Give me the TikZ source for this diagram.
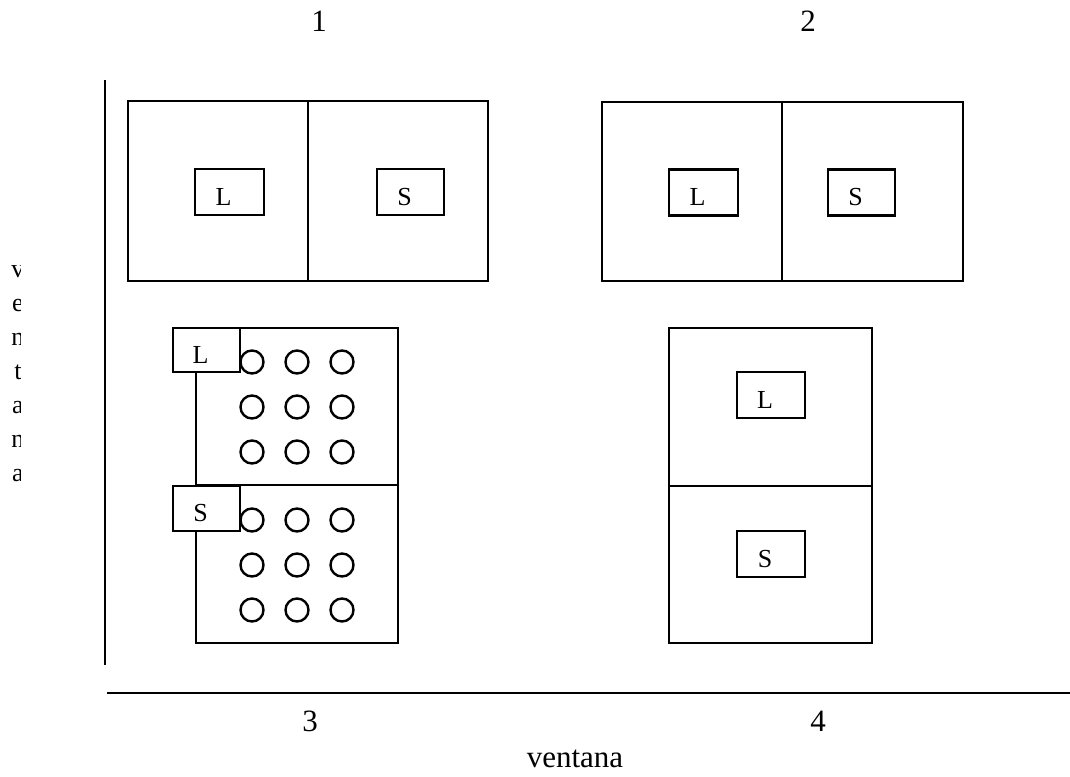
\documentclass[tikz,border=0pt]{standalone}
\usepackage{fontspec}
\setmainfont{Liberation Serif}
\begin{document}
\begin{tikzpicture}[x=1pt,y=-1pt,
  cell/.style={draw,line width=2.6pt,minimum width=#1,inner sep=0pt,outer sep=0pt},
  tag/.style={draw,line width=2.6pt,fill=white,inner sep=0pt,minimum width=68pt,minimum height=46pt,
    text height=26pt,text depth=0pt,font=\fontsize{26}{30}\selectfont,
    execute at begin node={\hspace*{-12pt}}},
  dot/.style={draw,circle,line width=2.4pt,minimum size=23pt,inner sep=0pt},
  axis/.style={line width=2.7pt},
  lbl/.style={font=\fontsize{31}{34}\selectfont,inner sep=0pt}]
\useasboundingbox (0,0) rectangle (1070,776);
% axes
\coordinate (vtop) at (105,80);
\coordinate (vbot) at (105,665);
\coordinate (hl) at (107,693);
\coordinate (hr) at (1070,693);
\draw[axis] (vtop) -- (vbot);
\draw[axis] (hl) -- (hr);
% labels
\node[lbl] (n1) at (319,21) {1};
\node[lbl] (n2) at (808,21) {2};
\node[lbl] (n3) at (310,721) {3};
\node[lbl] (n4) at (818,721) {4};
\node[lbl] (hv) at (575,759) {ventana};
\begin{scope}
\clip (0,0) rectangle (20,776);
\node[inner sep=0pt,align=center,font=\fontsize{26}{34}\selectfont] (vv) at (18,374) {v\\e\\n\\t\\a\\n\\a};
\end{scope}
% panel 1
\node[cell=180pt,minimum height=180pt] (a1) at (218,191) {};
\node[cell=180pt,minimum height=180pt] (a2) at (398,191) {};
\node[tag,minimum width=69pt] (aL) at (229.5,192) {L};
\node[tag,minimum width=67pt] (aS) at (410.5,192) {S};
% panel 2
\node[cell=180pt,minimum height=179pt] (b1) at (692,191.5) {};
\node[cell=181pt,minimum height=179pt] (b2) at (872.5,191.5) {};
\node[tag,minimum width=69pt] (bL) at (703.5,192.5) {L};
\node[tag,minimum width=67pt] (bS) at (861.5,192.5) {S};
% panel 3
\node[cell=202pt,minimum height=157pt] (c1) at (297,406.5) {};
\node[cell=202pt,minimum height=158pt] (c2) at (297,564) {};
\foreach \cx [count=\i] in {252,297,342}{
  \foreach \cy [count=\j] in {362,407,452}{
    \node[dot] (ct\i\j) at (\cx,\cy) {};
  }
  \foreach \cy [count=\j] in {520,565,610}{
    \node[dot] (cb\i\j) at (\cx,\cy) {};
  }
}
\node[tag,minimum width=67pt,minimum height=44pt] (cL) at (206.5,350) {L};
\node[tag,minimum width=67pt,minimum height=45pt] (cS) at (206.5,508.5) {S};
% panel 4
\node[cell=203pt,minimum height=158pt] (d1) at (770.5,407) {};
\node[cell=203pt,minimum height=157pt] (d2) at (770.5,564.5) {};
\node[tag] (dL) at (771,395) {L};
\node[tag] (dS) at (771,554) {S};
\end{tikzpicture}
\end{document}
